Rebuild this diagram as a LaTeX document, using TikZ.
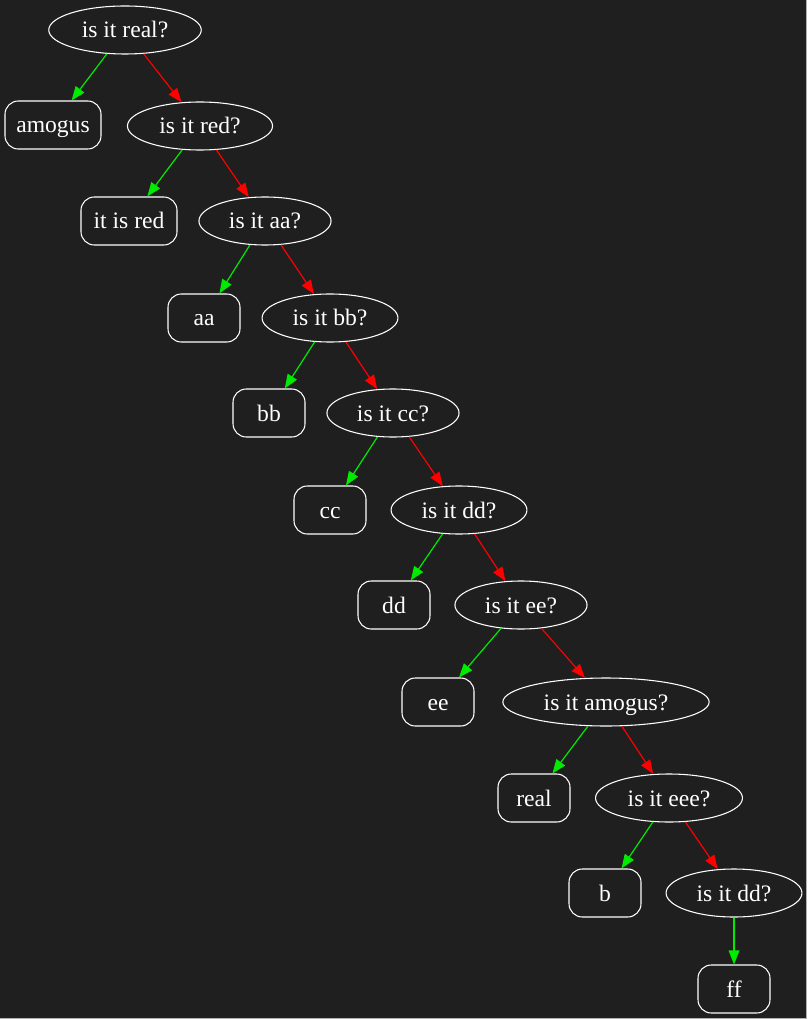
\documentclass[tikz,border=0pt]{standalone}
\usepackage{fontspec}
\setmainfont{Liberation Serif}
\usetikzlibrary{shapes.geometric, arrows.meta}

\definecolor{bg}{RGB}{31,31,31}
\definecolor{yesedge}{RGB}{0,235,0}
\definecolor{noedge}{RGB}{255,0,0}

\begin{document}
\begin{tikzpicture}[x=0.75pt, y=-0.75pt,
    question/.style={draw=white, ellipse, text=white, inner xsep=8pt, inner ysep=0pt, minimum height=36pt, line width=0.8pt, text height=14pt, text depth=2pt, font=\fontsize{17.7}{20}\selectfont},
    answer/.style={draw=white, rectangle, rounded corners=10pt, text=white, minimum width=54pt, minimum height=36pt, line width=0.8pt, text height=14pt, text depth=2pt, font=\fontsize{17.7}{20}\selectfont},
    yes/.style={draw=yesedge, line width=0.9pt, -{Triangle[length=10.5pt, width=8pt]}},
    no/.style={draw=noedge, line width=0.9pt, -{Triangle[length=10.5pt, width=8pt]}}]

    \fill[gray!60] (0, 0) rectangle (807, 1019);
    \fill[bg] (0, 0) rectangle (806, 1018);
    \useasboundingbox (0, 0) rectangle (807, 1019);

    \node[question] (qreal) at (125, 30) {is it real?};
    \node[answer, minimum width=72pt] (amogus) at (53, 125) {amogus};
    \node[question] (qred) at (200, 126) {is it red?};
    \node[answer, minimum width=72pt] (itisred) at (129, 221) {it is red};
    \node[question] (qaa) at (265, 221) {is it aa?};
    \node[answer] (aa) at (204, 318) {aa};
    \node[question] (qbb) at (330, 318) {is it bb?};
    \node[answer] (bb) at (269, 413) {bb};
    \node[question] (qcc) at (393, 413) {is it cc?};
    \node[answer] (cc) at (330, 510) {cc};
    \node[question] (qdd) at (459, 510) {is it dd?};
    \node[answer] (dd) at (394, 605) {dd};
    \node[question] (qee) at (521, 605) {is it ee?};
    \node[answer] (ee) at (438, 702) {ee};
    \node[question] (qamogus) at (606, 702) {is it amogus?};
    \node[answer] (realleaf) at (534, 798) {real};
    \node[question] (qeee) at (669, 798) {is it eee?};
    \node[answer] (b) at (605, 893) {b};
    \node[question] (qddtwo) at (734, 893) {is it dd?};
    \node[answer] (ff) at (734, 989) {ff};

    \draw[yes] (qreal) -- (amogus);
    \draw[no] (qreal) -- (qred);
    \draw[yes] (qred) -- (itisred);
    \draw[no] (qred) -- (qaa);
    \draw[yes] (qaa) -- (aa);
    \draw[no] (qaa) -- (qbb);
    \draw[yes] (qbb) -- (bb);
    \draw[no] (qbb) -- (qcc);
    \draw[yes] (qcc) -- (cc);
    \draw[no] (qcc) -- (qdd);
    \draw[yes] (qdd) -- (dd);
    \draw[no] (qdd) -- (qee);
    \draw[yes] (qee) -- (ee);
    \draw[no] (qee) -- (qamogus);
    \draw[yes] (qamogus) -- (realleaf);
    \draw[no] (qamogus) -- (qeee);
    \draw[yes] (qeee) -- (b);
    \draw[no] (qeee) -- (qddtwo);
    \draw[yes] (qddtwo) -- (ff);

\end{tikzpicture}
\end{document}
